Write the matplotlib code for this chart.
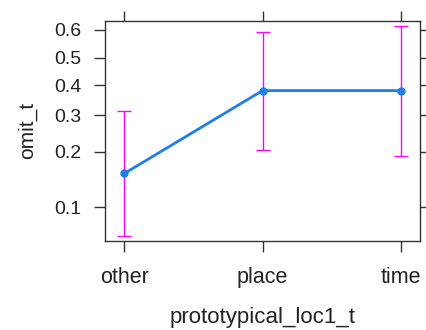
import matplotlib
matplotlib.use('Agg')
from matplotlib import pyplot as plt
from matplotlib.ticker import NullLocator, FixedLocator, FixedFormatter

categories = ['other', 'place', 'time']
fit = [0.154, 0.381, 0.381]
lower = [0.068, 0.204, 0.190]
upper = [0.314, 0.592, 0.614]
yticks = [0.1, 0.2, 0.3, 0.4, 0.5, 0.6]
yticklabels = ['0.1', '0.2', '0.3', '0.4', '0.5', '0.6']

plt.rcParams['font.family'] = ['Liberation Sans', 'DejaVu Sans']

fig = plt.figure(figsize=(4.26, 3.30), dpi=100)
ax = fig.add_axes([0.2465, 0.2697, 0.7395, 0.6673])

x = list(range(1, len(categories) + 1))
yerr = [[f - l for f, l in zip(fit, lower)], [u - f for f, u in zip(fit, upper)]]

ax.errorbar(x, fit, yerr=yerr, fmt='none', ecolor='#ff00ff', elinewidth=1, capsize=5, capthick=1)
ax.plot(x, fit, '-o', color='#1e7fe8', linewidth=2, markersize=5)

ax.set_yscale('logit')
ax.set_ylim(0.0632, 0.632)
ax.set_xlim(0.86, 3.14)

ax.yaxis.set_major_locator(FixedLocator(yticks))
ax.yaxis.set_major_formatter(FixedFormatter(yticklabels))
ax.yaxis.set_minor_locator(NullLocator())
ax.set_xticks(x)
ax.set_xticklabels(categories)

for s in ax.spines.values():
    s.set_color('#333333')
    s.set_linewidth(1)

ax.tick_params(axis='both', direction='out', length=8, width=1, color='#333333', labelcolor='#222222')
ax.tick_params(axis='y', right=True, labelright=False, pad=9, labelsize=14)
ax.tick_params(axis='x', top=True, labeltop=False, pad=10.5, labelsize=15.5)

ax.set_xlabel('prototypical_loc1_t', fontsize=16, color='#222222', labelpad=14)
ax.set_ylabel('omit_t', fontsize=15, color='#222222', labelpad=12)

# right side ticks are a bit shorter in the original
for t in ax.yaxis.get_major_ticks():
    t.tick2line.set_markersize(5)
for t in ax.xaxis.get_major_ticks():
    t.tick2line.set_markersize(7)

plt.savefig('out.png', dpi=100)
